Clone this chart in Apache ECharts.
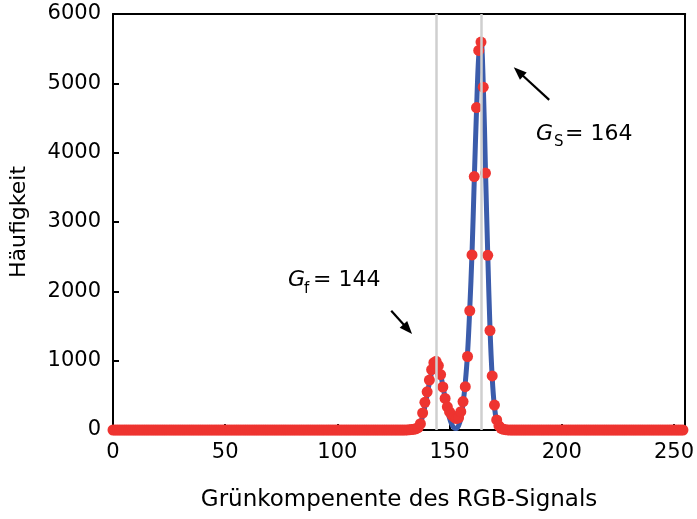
<!DOCTYPE html>
<html>
<head>
<meta charset="utf-8">
<script src="https://cdn.jsdelivr.net/npm/echarts@6/dist/echarts.min.js"></script>
<style>
  html, body { margin: 0; padding: 0; background: #ffffff; }
  #chart { width: 697px; height: 519px; }
</style>
</head>
<body>
<div id="chart"></div>
<script>
// Histogram of the green channel: number of pixels per green level 0..254
const counts = [
  0, 0, 0, 0, 0, 0, 0, 0, 0, 0,          // 0-9
  0, 0, 0, 0, 0, 0, 0, 0, 0, 0,          // 10-19
  0, 0, 0, 0, 0, 0, 0, 0, 0, 0,          // 20-29
  0, 0, 0, 0, 0, 0, 0, 0, 0, 0,          // 30-39
  0, 0, 0, 0, 0, 0, 0, 0, 0, 0,          // 40-49
  0, 0, 0, 0, 0, 0, 0, 0, 0, 0,          // 50-59
  0, 0, 0, 0, 0, 0, 0, 0, 0, 0,          // 60-69
  0, 0, 0, 0, 0, 0, 0, 0, 0, 0,          // 70-79
  0, 0, 0, 0, 0, 0, 0, 0, 0, 0,          // 80-89
  0, 0, 0, 0, 0, 0, 0, 0, 0, 0,          // 90-99
  0, 0, 0, 0, 0, 0, 0, 0, 0, 0,          // 100-109
  0, 0, 0, 0, 0, 0, 0, 0, 0, 0,          // 110-119
  0, 0, 0, 0, 0, 0, 0, 0, 0, 0,          // 120-129
  0, 1, 3, 6, 10, 18, 35, 90, 245, 400,  // 130-139
  550, 720, 870, 970, 990, 930, 800, 620, 455, 335,        // 140-149
  260, 215, 185, 165, 175, 265, 410, 625, 1060, 1720,      // 150-159
  2525, 3655, 4650, 5475, 5595, 4945, 3705, 2520, 1435, 780, // 160-169
  360, 145, 60, 25, 10, 4, 1, 0, 0, 0,   // 170-179
  0, 0, 0, 0, 0, 0, 0, 0, 0, 0,          // 180-189
  0, 0, 0, 0, 0, 0, 0, 0, 0, 0,          // 190-199
  0, 0, 0, 0, 0, 0, 0, 0, 0, 0,          // 200-209
  0, 0, 0, 0, 0, 0, 0, 0, 0, 0,          // 210-219
  0, 0, 0, 0, 0, 0, 0, 0, 0, 0,          // 220-229
  0, 0, 0, 0, 0, 0, 0, 0, 0, 0,          // 230-239
  0, 0, 0, 0, 0, 0, 0, 0, 0, 0,          // 240-249
  0, 0, 0, 0, 0                           // 250-254
];
const greenLevels = counts.map((_, i) => i);

// Fitted double-peak curve, sampled per green level
const fitLevels = [
  130, 131, 132, 133, 134, 135, 136, 137, 138, 139,
  140, 141, 142, 143, 144, 145, 146, 147, 148, 149,
  150, 151, 152, 153, 154, 155, 156, 157, 158, 159,
  160, 161, 162, 163, 164, 165, 166, 167, 168, 169,
  170, 171, 172, 173, 174, 175, 176, 177, 178, 179, 180
];
const fitValues = [
  0, 0, 1, 2, 5, 15, 40, 100, 200, 340,
  510, 680, 830, 930, 960, 920, 800, 640, 460, 300,
  170, 80, 30, 20, 60, 170, 380, 680, 1100, 1750,
  2550, 3600, 4600, 5400, 5620, 5000, 3750, 2550, 1480, 760,
  330, 130, 45, 15, 5, 0, 0, 0, 0, 0, 0
];

// Peak positions (G_f and G_S)
const peakLevels = [144, 164];
const peakLabels = [
  { main: 'G', sub: 'f', text: '= 144' },
  { main: 'G', sub: 'S', text: '= 164' }
];

const xMin = 0, xMax = 255, xStep = 50;
const yMin = 0, yMax = 6000, yStep = 1000;

const FONT = '"DejaVu Sans", "Liberation Sans", Arial, sans-serif';
const INK = '#000000';

const chart = echarts.init(document.getElementById('chart'), null, { renderer: 'canvas' });

const axisBase = {
  axisLine: { show: true, onZero: false, lineStyle: { color: INK, width: 2 } },
  axisTick: { show: true, inside: true, length: 6, lineStyle: { color: INK, width: 2 } },
  splitLine: { show: false },
  minorTick: { show: false }
};

chart.setOption({
  animation: false,
  backgroundColor: '#ffffff',
  grid: { left: 113, right: 11, top: 14, bottom: 89, containLabel: false },
  xAxis: [
    Object.assign({}, axisBase, {
      type: 'value', min: xMin, max: xMax, interval: xStep, position: 'bottom',
      axisLabel: { show: true, color: INK, fontFamily: FONT, fontSize: 21, margin: 12,
        showMaxLabel: false, formatter: v => String(v) },
      name: 'Grünkompenente des RGB-Signals',
      nameLocation: 'middle', nameGap: 59,
      nameTextStyle: { color: INK, fontFamily: FONT, fontSize: 23 }
    }),
    Object.assign({}, axisBase, {
      type: 'value', min: xMin, max: xMax, interval: xStep, position: 'top',
      axisTick: { show: false }, axisLabel: { show: false }
    })
  ],
  yAxis: [
    Object.assign({}, axisBase, {
      type: 'value', min: yMin, max: yMax, interval: yStep, position: 'left',
      axisLabel: { show: true, color: INK, fontFamily: FONT, fontSize: 21, margin: 12,
        formatter: v => String(v) },
      name: 'Häufigkeit',
      nameLocation: 'middle', nameGap: 83, nameRotate: 90,
      nameTextStyle: { color: INK, fontFamily: FONT, fontSize: 22 }
    }),
    Object.assign({}, axisBase, {
      type: 'value', min: yMin, max: yMax, interval: yStep, position: 'right',
      axisTick: { show: false }, axisLabel: { show: false }
    })
  ],
  series: [
    {
      // vertical guides at the two peak positions
      type: 'line', data: [], z: 1, silent: true,
      markLine: {
        silent: true, symbol: ['none', 'none'], label: { show: false },
        lineStyle: { color: '#cfcfcf', width: 2.5, type: 'solid' },
        data: peakLevels.map(v => ({ xAxis: v }))
      }
    },
    {
      name: 'Fit',
      type: 'line', z: 2,
      data: fitLevels.map((x, i) => [x, fitValues[i]]),
      smooth: 0.35, showSymbol: false,
      lineStyle: { color: '#3b5cab', width: 5 },
      clip: false
    },
    {
      name: 'Histogramm',
      type: 'scatter', z: 3,
      data: greenLevels.map((x, i) => [x, counts[i]]),
      symbol: 'circle', symbolSize: 11,
      itemStyle: { color: '#ee3430', opacity: 1 },
      clip: false
    }
  ]
});

// Annotation placement (in data coordinates) and text part offsets (px)
const notes = [
  { label: peakLabels[0], at: [78, 2045], subDx: 16, valDx: 25,
    arrowFrom: [124, 1721], arrowTo: [133.3, 1385] },
  { label: peakLabels[1], at: [188.5, 4160], subDx: 18, valDx: 29,
    arrowFrom: [194.4, 4762], arrowTo: [178.6, 5231] }
];

function arrow(p0, p1) {
  const dx = p1[0] - p0[0], dy = p1[1] - p0[1];
  const len = Math.hypot(dx, dy);
  const ux = dx / len, uy = dy / len;
  const headL = 13, headW = 5;
  const bx = p1[0] - ux * headL, by = p1[1] - uy * headL;
  return [
    { type: 'line', silent: true, z: 10,
      shape: { x1: p0[0], y1: p0[1], x2: bx + ux * 2, y2: by + uy * 2 },
      style: { stroke: INK, lineWidth: 2.2 } },
    { type: 'polygon', silent: true, z: 10,
      shape: { points: [[p1[0], p1[1]], [bx - uy * headW, by + ux * headW], [bx + uy * headW, by - ux * headW]] },
      style: { fill: INK } }
  ];
}

const graphics = [];
notes.forEach(n => {
  const a = chart.convertToPixel({ xAxisIndex: 0, yAxisIndex: 0 }, n.at);
  const mid = a[1] - 7.5;
  graphics.push({ type: 'text', silent: true, z: 10, x: a[0], y: mid,
    style: { text: n.label.main, font: 'italic 22px ' + FONT, fill: INK, verticalAlign: 'middle', align: 'left' } });
  graphics.push({ type: 'text', silent: true, z: 10, x: a[0] + n.subDx, y: mid + 8,
    style: { text: n.label.sub, font: '15px ' + FONT, fill: INK, verticalAlign: 'middle', align: 'left' } });
  graphics.push({ type: 'text', silent: true, z: 10, x: a[0] + n.valDx, y: mid,
    style: { text: n.label.text, font: '22px ' + FONT, fill: INK, verticalAlign: 'middle', align: 'left' } });
  const p0 = chart.convertToPixel({ xAxisIndex: 0, yAxisIndex: 0 }, n.arrowFrom);
  const p1 = chart.convertToPixel({ xAxisIndex: 0, yAxisIndex: 0 }, n.arrowTo);
  arrow(p0, p1).forEach(g => graphics.push(g));
});
chart.setOption({ graphic: graphics });
</script>
</body>
</html>
